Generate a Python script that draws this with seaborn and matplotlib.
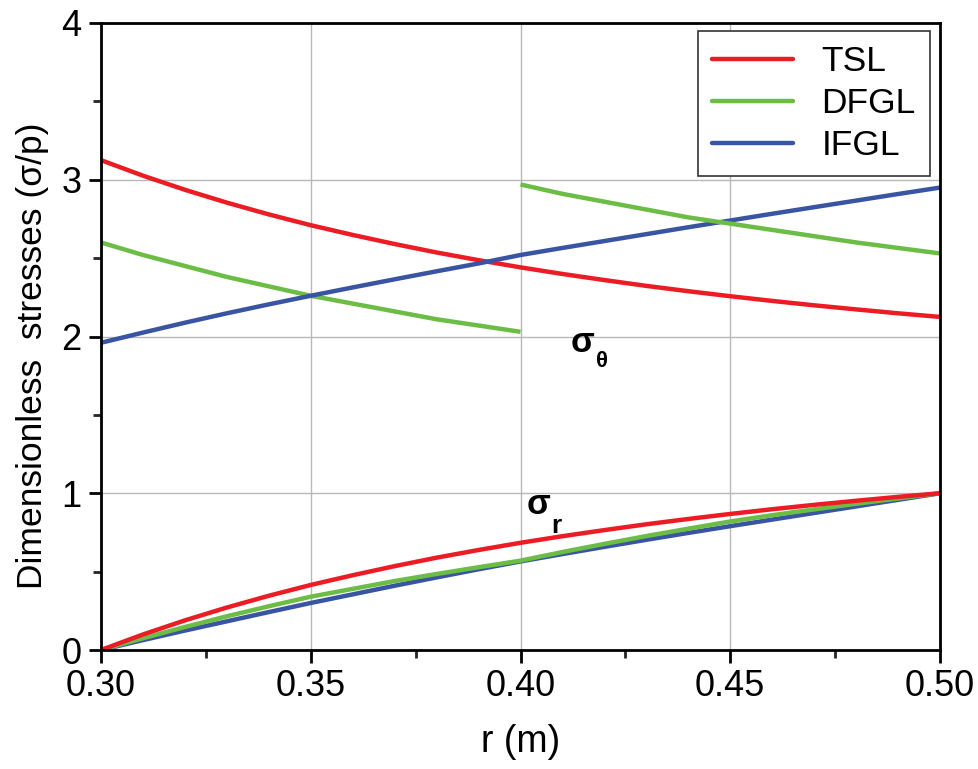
import matplotlib
matplotlib.use("Agg")
import matplotlib.pyplot as plt
from matplotlib.ticker import MultipleLocator
import seaborn as sns
import pandas as pd

sns.set_theme(style="white")
plt.rcParams['font.family'] = ['Liberation Sans', 'DejaVu Sans']
plt.rcParams['text.color'] = 'black'
plt.rcParams['axes.labelcolor'] = 'black'

r = [0.30, 0.31, 0.32, 0.33, 0.34, 0.35, 0.36, 0.37, 0.38, 0.39, 0.40,
     0.41, 0.42, 0.43, 0.44, 0.45, 0.46, 0.47, 0.48, 0.49, 0.50]
r_in = r[:11]
r_out = r[10:]

tsl_theta = [3.125, 3.026, 2.936, 2.854, 2.779, 2.710, 2.648, 2.590, 2.536, 2.487, 2.441,
             2.399, 2.360, 2.323, 2.289, 2.257, 2.227, 2.199, 2.173, 2.148, 2.125]
tsl_r = [0.0, 0.099, 0.189, 0.271, 0.346, 0.415, 0.477, 0.535, 0.589, 0.638, 0.684,
         0.726, 0.765, 0.802, 0.836, 0.868, 0.898, 0.926, 0.952, 0.977, 1.0]
ifgl_theta = [1.96, 2.025, 2.088, 2.148, 2.205, 2.26, 2.313, 2.365, 2.416, 2.466, 2.52,
              2.565, 2.609, 2.653, 2.697, 2.74, 2.783, 2.825, 2.867, 2.909, 2.95]
ifgl_r = [0.0, 0.063, 0.124, 0.183, 0.242, 0.30, 0.355, 0.41, 0.463, 0.515, 0.565,
          0.612, 0.658, 0.703, 0.747, 0.79, 0.832, 0.874, 0.916, 0.958, 1.0]
dfgl_theta_in = [2.60, 2.52, 2.45, 2.38, 2.32, 2.26, 2.21, 2.16, 2.11, 2.07, 2.03]
dfgl_theta_out = [2.97, 2.91, 2.86, 2.81, 2.76, 2.72, 2.68, 2.64, 2.60, 2.565, 2.53]
dfgl_r = [0.0, 0.075, 0.147, 0.215, 0.279, 0.34, 0.39, 0.44, 0.485, 0.528, 0.57,
          0.625, 0.677, 0.727, 0.774, 0.82, 0.86, 0.897, 0.933, 0.967, 1.0]

labels = ["TSL", "DFGL", "IFGL"]
colors = {"TSL": "#ec1c24", "DFGL": "#6cbd45", "IFGL": "#3a54a4"}

fig = plt.figure(figsize=(9.79, 7.69), dpi=100)
ax = fig.add_axes([101/979, 1-650/769, (940-101)/979, (650-23)/769])

lw = 3.2
def draw(x, y, name, legend=False):
    df = pd.DataFrame({"r": x, "s": y})
    sns.lineplot(data=df, x="r", y="s", ax=ax, color=colors[name], lw=lw,
                 label=name if legend else None, solid_capstyle="butt")

draw(r, tsl_theta, "TSL", legend=True)
draw(r_in, dfgl_theta_in, "DFGL", legend=True)
draw(r, ifgl_theta, "IFGL", legend=True)
draw(r_out, dfgl_theta_out, "DFGL")
draw(r, ifgl_r, "IFGL")
draw(r, dfgl_r, "DFGL")
draw(r, tsl_r, "TSL")

ax.set_xlim(0.30, 0.50)
ax.set_ylim(0, 4)
ax.xaxis.set_major_locator(MultipleLocator(0.05))
ax.xaxis.set_minor_locator(MultipleLocator(0.025))
ax.yaxis.set_major_locator(MultipleLocator(1))
ax.yaxis.set_minor_locator(MultipleLocator(0.5))
ax.set_xticklabels([f"{v:.2f}" for v in ax.get_xticks()])
ax.grid(True, which="major", color="#b8b8b8", lw=1.0)
ax.set_axisbelow(True)
for s in ax.spines.values():
    s.set_color("black")
    s.set_linewidth(2.0)
ax.tick_params(which="major", direction="out", length=9, width=2, labelsize=26,
               colors="black", bottom=True, left=True, pad=5)
ax.tick_params(which="minor", direction="out", length=6, width=2, bottom=True, left=True)

ax.set_xlabel("r (m)", fontsize=27, labelpad=14)
ax.set_ylabel("Dimensionless  stresses (\u03c3/p)", fontsize=25.5, labelpad=9)
ax.yaxis.label.set_y(0.47)

ax.text(0.4147, 1.96, "\u03c3", fontsize=25, fontweight="bold", ha="center", va="center")
ax.text(0.4195, 1.84, "\u03b8", fontsize=16, fontweight="bold", ha="center", va="center")
ax.text(0.4042, 0.93, "\u03c3", fontsize=25, fontweight="bold", ha="center", va="center")
ax.text(0.4085, 0.79, "r", fontsize=19, fontweight="bold", ha="center", va="center")

leg = ax.legend(loc="upper right", fontsize=25.5, frameon=True, fancybox=False,
                edgecolor="#333333", framealpha=1, handlelength=2.3, handletextpad=0.8,
                borderpad=0.4, labelspacing=0.25, borderaxespad=0,
                bbox_to_anchor=(0.988, 0.987))
leg.get_frame().set_linewidth(1.2)
for h in leg.get_lines():
    h.set_linewidth(3.2)
    h.set_solid_capstyle("round")

fig.savefig("out.png", dpi=100)
